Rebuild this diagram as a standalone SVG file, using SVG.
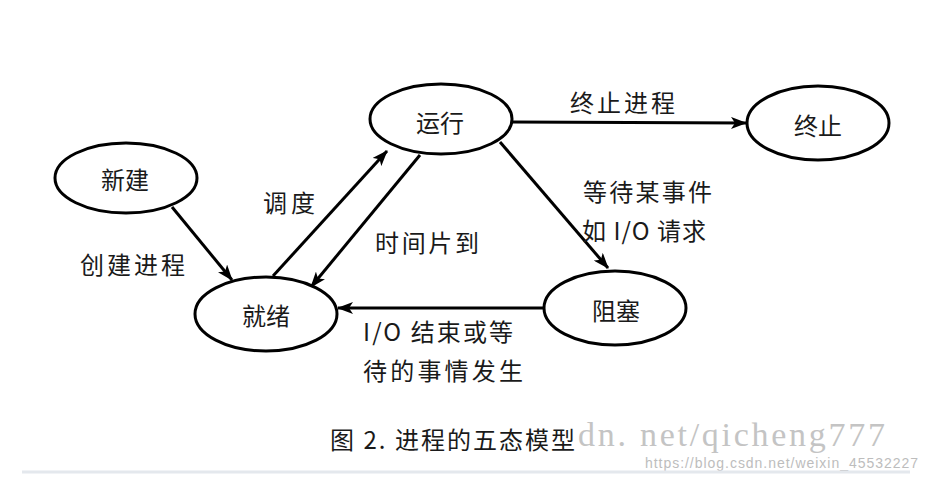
<svg xmlns="http://www.w3.org/2000/svg" width="926" height="479" viewBox="0 0 926 479">
<style>
.node ellipse{fill:#fff;stroke:#000;stroke-width:3}
.lbl{font-family:"Noto Sans CJK SC","Noto Sans",sans-serif;font-size:24px;fill:#1a1a1a}
.node text{text-anchor:middle;dominant-baseline:central}
.edges line{stroke:#000;stroke-width:3;marker-end:url(#ah)}
</style>
<defs>
<marker id="ah" markerUnits="userSpaceOnUse" markerWidth="16" markerHeight="12" refX="15" refY="6" orient="auto">
<path d="M0,0 L16,6 L0,12 L4,6 z" fill="#000"/>
</marker>
</defs>
<rect width="926" height="479" fill="#fff"/>
<g class="edges">
<line x1="172" y1="207" x2="232" y2="280"/>
<line x1="273" y1="276" x2="387" y2="151"/>
<line x1="420" y1="155" x2="311" y2="287"/>
<line x1="512" y1="122" x2="746" y2="123"/>
<line x1="500" y1="142" x2="608" y2="268"/>
<line x1="544" y1="308" x2="338" y2="308"/>
</g>
<g id="n-new" class="node"><ellipse cx="126" cy="178" rx="71" ry="35"/><text class="lbl" x="125" y="178">新建</text></g>
<g id="n-ready" class="node"><ellipse cx="266" cy="314" rx="71" ry="37"/><text class="lbl" x="266" y="314">就绪</text></g>
<g id="n-run" class="node"><ellipse cx="441" cy="119" rx="71" ry="35"/><text class="lbl" x="440" y="121">运行</text></g>
<g id="n-end" class="node"><ellipse cx="818" cy="123" rx="71" ry="37"/><text class="lbl" x="818" y="124">终止</text></g>
<g id="n-block" class="node"><ellipse cx="615" cy="308" rx="71" ry="37"/><text class="lbl" x="616" y="309">阻塞</text></g>
<g id="labels" class="lbl" dominant-baseline="central">
<text x="80" y="263" textLength="105">创建进程</text>
<text x="263" y="201" textLength="52">调度</text>
<text x="375" y="241" textLength="104">时间片到</text>
<text x="570" y="101" textLength="105">终止进程</text>
<text x="583" y="190" textLength="129">等待某事件</text>
<text x="582" y="229" textLength="124">如 I/O 请求</text>
<text x="363" y="330" textLength="150">I/O 结束或等</text>
<text x="363" y="369" textLength="160">待的事情发生</text>
</g>
<g id="watermark">
<text x="578" y="446" font-family="Liberation Serif,serif" font-size="34" fill="#c4c4c4" textLength="307">dn. net/qicheng777</text>
<text x="645" y="468" font-family="Liberation Sans,sans-serif" font-size="14" fill="#bdbdbd" textLength="273">https://blog.csdn.net/weixin_45532227</text>
</g>
<text class="lbl" x="330" y="438" dominant-baseline="central" font-size="25" textLength="245">图 2. 进程的五态模型</text>
<line x1="22" y1="472" x2="910" y2="472" stroke="#e4e8ed" stroke-width="3"/>
</svg>
